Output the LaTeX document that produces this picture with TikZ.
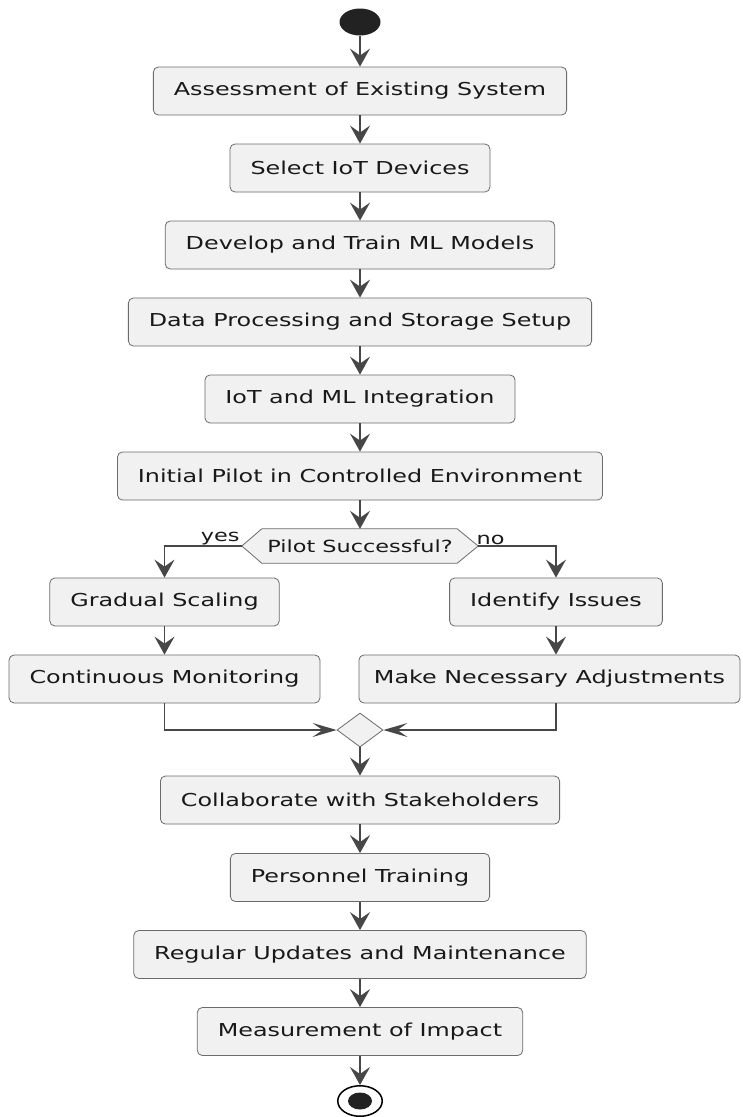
\documentclass[tikz,border=0pt]{standalone}
\usepackage{fontspec}
\usetikzlibrary{arrows.meta,shapes.geometric,backgrounds}
\newfontfamily\umlfont{DejaVu Sans}[FakeStretch=1.34]
\definecolor{actfill}{HTML}{F1F1F1}
\definecolor{actline}{HTML}{6B6B6B}
\definecolor{flowline}{HTML}{474747}
\definecolor{dotfill}{HTML}{222222}

\begin{document}
\begin{tikzpicture}
  [x=1pt,y=-1pt,
   every node/.style={font=\umlfont\fontsize{17.8pt}{21pt}\selectfont,text=black!90},
   act/.style={rectangle,rounded corners=5pt,fill=actfill,draw=actline,line width=0.8pt,
     inner xsep=20.5pt,inner ysep=0pt,minimum height=48pt},
   test/.style={rectangle,inner sep=0pt,minimum width=236pt,minimum height=34pt,
     font=\umlfont\fontsize{16.7pt}{20pt}\selectfont},
   lbl/.style={inner sep=0.5pt,anchor=south,font=\umlfont\fontsize{16.7pt}{20pt}\selectfont},
   merge/.style={diamond,inner sep=0pt,minimum width=46pt,minimum height=34pt,
     fill=actfill,draw=actline,line width=0.8pt},
   start/.style={ellipse,inner sep=0pt,minimum width=41pt,minimum height=27pt,fill=dotfill},
   stop/.style={ellipse,inner sep=0pt,minimum width=44.5pt,minimum height=30.5pt,
     fill=white,draw=black,line width=1.5pt},
   stopdot/.style={ellipse,inner sep=0pt,minimum width=24pt,minimum height=17pt,fill=dotfill},
   flow/.style={draw=flowline,line width=1.6pt,-{Stealth[length=18pt,width=20pt,inset=7pt]}},
   hflow/.style={draw=flowline,line width=1.3pt,-{Stealth[length=24pt,width=14pt,inset=10pt]}}]
  \useasboundingbox (0,0) rectangle (743,1117);

  \node[start] (init) at (360,22) {};
  \node[act] (n1) at (360,91)    {Assessment of Existing System};
  \node[act] (n2) at (360,168)   {Select IoT Devices};
  \node[act] (n3) at (360,245)   {Develop and Train ML Models};
  \node[act] (n4) at (360,322)   {Data Processing and Storage Setup};
  \node[act] (n5) at (360,399)   {IoT and ML Integration};
  \node[act] (n6) at (360,476)   {Initial Pilot in Controlled Environment};
  \node[test] (pilot) at (360,546) {Pilot Successful?};
  \node[act] (y1) at (164.5,602) {Gradual Scaling};
  \node[act] (y2) at (164.5,679) {Continuous Monitoring};
  \node[act] (f1) at (556,602)   {Identify Issues};
  \node[act,inner xsep=15pt] (f2) at (549.5,679) {Make Necessary Adjustments};
  \node[merge] (m) at (360,730) {};
  \node[act] (n7) at (360,800)   {Collaborate with Stakeholders};
  \node[act] (n8) at (360,877.5) {Personnel Training};
  \node[act] (n9) at (360,954.5) {Regular Updates and Maintenance};
  \node[act] (n10) at (360,1031.5) {Measurement of Impact};
  \node[stop] (final) at (360,1101) {};
  \node[stopdot] (finaldot) at (final) {};

  % hexagon behind the question
  \begin{scope}[on background layer]
    \filldraw[fill=actfill,draw=actline,line width=0.8pt]
      (pilot.west) -- ([xshift=20pt]pilot.north west) -- ([xshift=-21pt]pilot.north east)
      -- (pilot.east) -- ([xshift=-21pt]pilot.south east) -- ([xshift=20pt]pilot.south west) -- cycle;
  \end{scope}

  \draw[flow] (init) to (n1);
  \draw[flow] (n1) to (n2);
  \draw[flow] (n2) to (n3);
  \draw[flow] (n3) to (n4);
  \draw[flow] (n4) to (n5);
  \draw[flow] (n5) to (n6);
  \draw[flow] (n6) to (pilot);
  \draw[flow] (pilot.west) -| node[lbl,pos=0.14] {yes} (y1);
  \draw[flow] (pilot.east) -| node[lbl,pos=0.08] {no} (f1);
  \draw[flow] (y1) to (y2);
  \draw[flow] (f1) to (f1 |- f2.north);
  \draw[hflow] (y2) |- (m);
  \draw[hflow] (f1 |- f2.south) |- (m);
  \draw[flow] (m) to (n7);
  \draw[flow] (n7) to (n8);
  \draw[flow] (n8) to (n9);
  \draw[flow] (n9) to (n10);
  \draw[flow] (n10) to (final);
\end{tikzpicture}
\end{document}
